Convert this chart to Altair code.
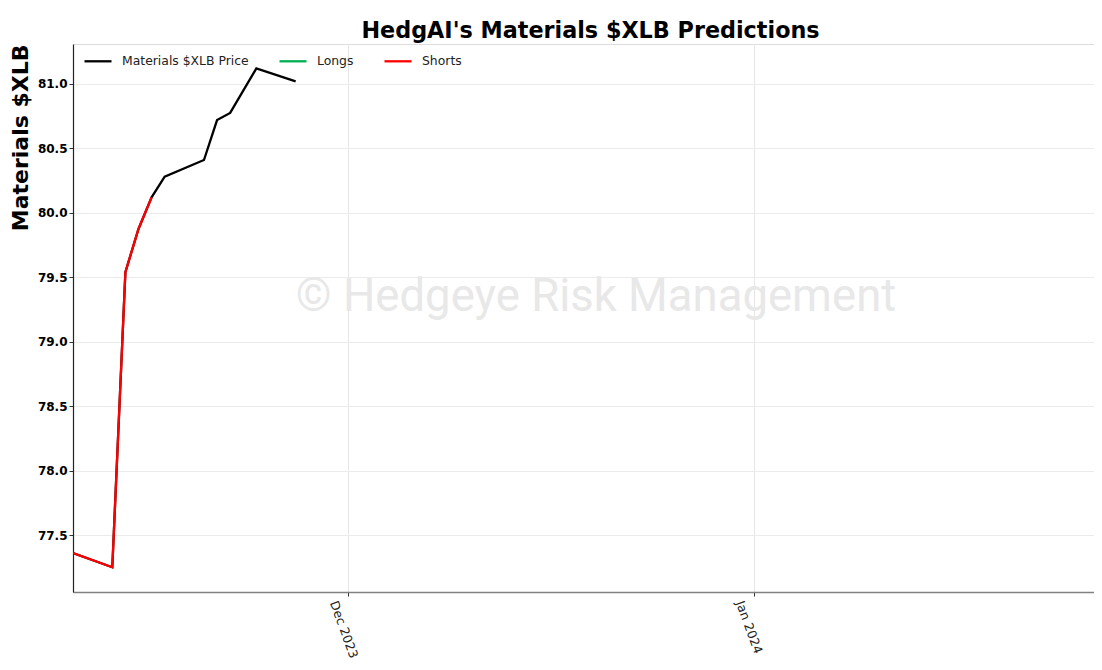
import altair as alt
import pandas as pd

price_dates = ["2023-11-10", "2023-11-13", "2023-11-14", "2023-11-15", "2023-11-16",
               "2023-11-17", "2023-11-20", "2023-11-21", "2023-11-22", "2023-11-24",
               "2023-11-27"]
price_values = [77.36, 77.25, 79.54, 79.875, 80.12, 80.28, 80.41, 80.72, 80.775, 81.12, 81.02]

short_dates = ["2023-11-10", "2023-11-13", "2023-11-14", "2023-11-15", "2023-11-16"]
short_values = [77.36, 77.25, 79.54, 79.875, 80.12]

series_names = ["Materials $XLB Price", "Longs", "Shorts"]
series_colors = ["#000000", "#00b050", "#ff0000"]

y_ticks = [77.5, 78.0, 78.5, 79.0, 79.5, 80.0, 80.5, 81.0]
x_domain = ["2023-11-10T00:00:00", "2024-01-26T23:00:00"]
y_domain = [77.058, 81.31]

watermark_text = ["© Hedgeye Risk Management"]

df = pd.concat([
    pd.DataFrame({"date": price_dates, "value": price_values, "series": series_names[0], "order": 0}),
    pd.DataFrame({"date": short_dates, "value": short_values, "series": series_names[2], "order": 1}),
])

FONT = "DejaVu Sans"
W, H = 1021, 548

lines = alt.Chart(df).mark_line(strokeWidth=2.3, clip=True).encode(
    x=alt.X("date:T", scale=alt.Scale(domain=x_domain, nice=False),
            axis=alt.Axis(values=["2023-12-01T00:00:00", "2024-01-01T00:00:00"],
                          format="%b %Y", labelAngle=70, labelAlign="left",
                          labelBaseline="middle", labelFontSize=12.5, labelColor="#222",
                          labelFont=FONT, labelOffset=-15, labelPadding=5,
                          domainColor="#808080", domainWidth=1.5, tickColor="#333",
                          tickSize=4, grid=True, gridColor="#e6e6e6", title=None)),
    y=alt.Y("value:Q", scale=alt.Scale(domain=y_domain, nice=False, zero=False),
            axis=alt.Axis(values=y_ticks, format=".1f", labelFontWeight="bold",
                          labelFontSize=12, labelColor="#000", labelFont=FONT,
                          domainColor="#222", domainWidth=1.2, tickColor="#333", tickSize=4,
                          grid=True, gridColor="#ebebeb",
                          title="Materials $XLB", titleFontSize=22, titleFontWeight="bold",
                          titleFont=FONT, titleColor="#000", titleAngle=270,
                          titleX=-53, titleY=0, titleAlign="right",
                          titleBaseline="middle")),
    color=alt.Color("series:N", scale=alt.Scale(domain=series_names, range=series_colors),
                    legend=alt.Legend(orient="none", legendX=10, legendY=2,
                                      direction="horizontal", title=None,
                                      symbolType="stroke", symbolStrokeWidth=2.3,
                                      symbolSize=729, labelFontSize=12.4, labelFont=FONT,
                                      labelColor="#222", labelOffset=9, columnPadding=25,
                                      padding=0)),
    order=alt.Order("order:Q"),
    detail="series:N",
)

wm = alt.Chart(pd.DataFrame({"t": watermark_text})).mark_text(
    fontSize=45.5, font="Roboto", color="#e8e8e8", align="center", baseline="middle"
).encode(text="t:N", x=alt.value(523), y=alt.value(253))

chart = alt.layer(wm, lines).properties(
    width=W, height=H,
    title=alt.TitleParams("HedgAI's Materials $XLB Predictions", fontSize=22.3,
                          fontWeight="bold", font=FONT, color="#000", offset=2, dx=7),
    autosize=alt.AutoSizeParams(type="none"),
    padding={"left": 65, "top": 36, "right": 0, "bottom": 68},
).configure_view(strokeWidth=0, stroke="transparent").configure(background="white")

chart.save("out.html", embed_options={"renderer": "svg", "actions": False})
